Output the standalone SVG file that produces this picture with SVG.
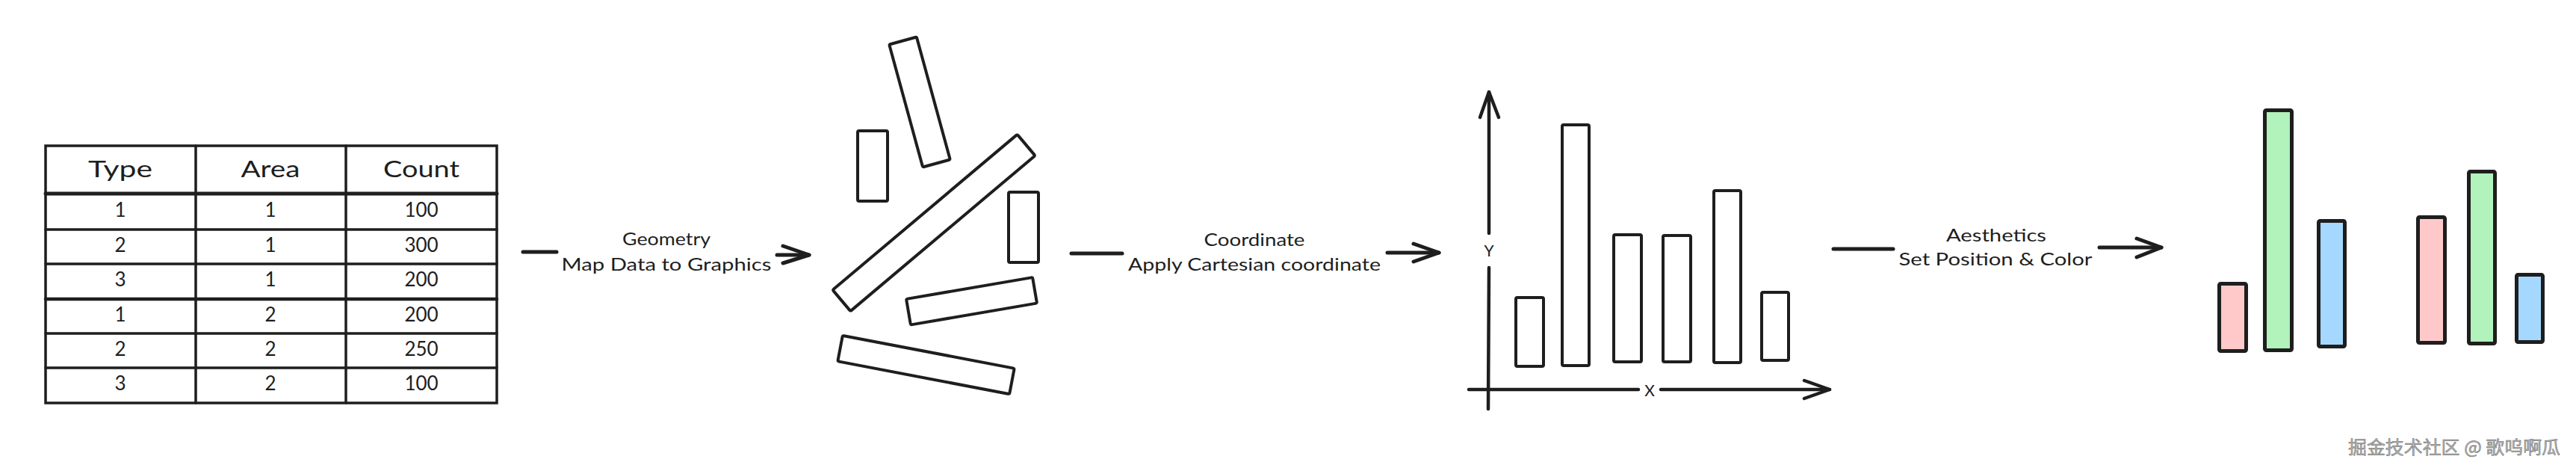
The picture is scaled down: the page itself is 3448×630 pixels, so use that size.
<svg xmlns="http://www.w3.org/2000/svg" width="3448" height="630" viewBox="0 0 3448 630">
<style>
.s{fill:none;stroke:#1e1e1e;stroke-width:4;stroke-linecap:round;stroke-linejoin:round}
.b{fill:#fff;stroke:#1e1e1e;stroke-width:4;stroke-linejoin:round}
.c{stroke:#1e1e1e;stroke-width:5;stroke-linejoin:round}
.tl{fill:none;stroke:#1e1e1e;stroke-width:3.5;stroke-linecap:round}
.t{font-family:"Lato","Liberation Sans",sans-serif;fill:#1e1e1e;text-anchor:middle}
.h{font-size:30px}
.d{font-size:26px}
.l{font-size:23px}
.ax{font-size:21px}
.wm{font-family:"Noto Sans CJK SC",sans-serif;font-size:24px;fill:#b4b4b4;stroke:#6a6a6a;stroke-width:0.5}
</style>
<rect width="3448" height="630" fill="#fff"/>

<g id="table">
  <rect x="61" y="195" width="604" height="344" class="tl"/>
  <line x1="61" y1="259" x2="665" y2="259" class="tl" style="stroke-width:5"/>
  <line x1="61" y1="307" x2="665" y2="307" class="tl"/>
  <line x1="61" y1="353" x2="665" y2="353" class="tl"/>
  <line x1="61" y1="400" x2="665" y2="400" class="tl" style="stroke-width:4.5"/>
  <line x1="61" y1="446" x2="665" y2="446" class="tl"/>
  <line x1="61" y1="492" x2="665" y2="492" class="tl"/>
  <line x1="262" y1="195" x2="262" y2="539" class="tl"/>
  <line x1="463" y1="195" x2="463" y2="539" class="tl"/>
  <text class="t h" x="161" y="237" textLength="86" lengthAdjust="spacingAndGlyphs">Type</text>
  <text class="t h" x="362" y="237" textLength="79" lengthAdjust="spacingAndGlyphs">Area</text>
  <text class="t h" x="564" y="237" textLength="102" lengthAdjust="spacingAndGlyphs">Count</text>
  <text class="t d" x="161" y="290">1</text><text class="t d" x="362" y="290">1</text><text class="t d" x="564" y="290">100</text>
  <text class="t d" x="161" y="337">2</text><text class="t d" x="362" y="337">1</text><text class="t d" x="564" y="337">300</text>
  <text class="t d" x="161" y="383">3</text><text class="t d" x="362" y="383">1</text><text class="t d" x="564" y="383">200</text>
  <text class="t d" x="161" y="430">1</text><text class="t d" x="362" y="430">2</text><text class="t d" x="564" y="430">200</text>
  <text class="t d" x="161" y="476">2</text><text class="t d" x="362" y="476">2</text><text class="t d" x="564" y="476">250</text>
  <text class="t d" x="161" y="522">3</text><text class="t d" x="362" y="522">2</text><text class="t d" x="564" y="522">100</text>
</g>

<g id="geometry-shapes">
  <rect class="b" x="-19" y="-85" width="38" height="170" rx="2" transform="translate(1231,136.5) rotate(-15.3)"/>
  <rect class="b" x="1148" y="175" width="40" height="94" rx="2"/>
  <rect class="b" x="-161.5" y="-18.5" width="323" height="37" rx="2" transform="translate(1250,298) rotate(-40.1)"/>
  <rect class="b" x="1350" y="257" width="40" height="94" rx="2"/>
  <rect class="b" x="-85.75" y="-17.5" width="171.5" height="35" rx="2" transform="translate(1300.5,402.75) rotate(-9.7)"/>
  <rect class="b" x="-117" y="-17.5" width="234" height="35" rx="2" transform="translate(1239.5,488) rotate(10.8)"/>
</g>

<g id="cartesian-chart">
  <polyline class="s" style="stroke-width:4.5" points="1992,547 1993,358"/>
  <polyline class="s" style="stroke-width:4.5" points="1993,312 1993,123"/>
  <polyline class="s" style="stroke-width:4.5" points="1981,157 1993,123 2006,157"/>
  <polyline class="s" style="stroke-width:4.5" points="1966,521 2193,521"/>
  <polyline class="s" style="stroke-width:4.5" points="2223,521 2449,521"/>
  <polyline class="s" style="stroke-width:4.5" points="2415,509 2449,521 2415,533"/>
  <text class="t ax" x="1993" y="343">Y</text>
  <text class="t ax" x="2208" y="530">X</text>
  <rect class="b" x="2029" y="398" width="37" height="92" rx="2"/>
  <rect class="b" x="2091" y="167" width="36" height="322" rx="2"/>
  <rect class="b" x="2160" y="314" width="37" height="170" rx="2"/>
  <rect class="b" x="2226" y="315" width="37" height="169" rx="2"/>
  <rect class="b" x="2294" y="255" width="36" height="230" rx="2"/>
  <rect class="b" x="2358" y="391" width="36" height="91" rx="2"/>
</g>

<g id="colored-chart">
  <rect class="c" fill="#ffc9c9" x="2970.5" y="379.5" width="36" height="90" rx="2"/>
  <rect class="c" fill="#b2f2bb" x="3031.5" y="147.5" width="36" height="321" rx="2"/>
  <rect class="c" fill="#a5d8ff" x="3103.5" y="295.5" width="35" height="168" rx="2"/>
  <rect class="c" fill="#ffc9c9" x="3236.5" y="290.5" width="36" height="168" rx="2"/>
  <rect class="c" fill="#b2f2bb" x="3304.5" y="229.5" width="35" height="230" rx="2"/>
  <rect class="c" fill="#a5d8ff" x="3368.5" y="367.5" width="35" height="90" rx="2"/>
</g>

<g id="connectors">
  <g id="arrow-geometry">
    <line class="s" style="stroke-width:5" x1="700" y1="337" x2="745" y2="337"/>
    <line class="s" style="stroke-width:5" x1="1040" y1="341" x2="1083" y2="341"/>
    <polyline class="s" style="stroke-width:5" points="1048,329 1083,341 1048,352"/>
    <text class="t l" x="892" y="328" textLength="118" lengthAdjust="spacingAndGlyphs">Geometry</text>
    <text class="t l" x="892" y="362" textLength="281" lengthAdjust="spacingAndGlyphs">Map Data to Graphics</text>
  </g>
  <g id="arrow-coordinate">
    <line class="s" style="stroke-width:5" x1="1434" y1="339" x2="1502" y2="339"/>
    <line class="s" style="stroke-width:5" x1="1857" y1="338" x2="1926" y2="338"/>
    <polyline class="s" style="stroke-width:5" points="1892,326 1926,338 1892,350"/>
    <text class="t l" x="1679" y="329" textLength="135" lengthAdjust="spacingAndGlyphs">Coordinate</text>
    <text class="t l" x="1679" y="362" textLength="338" lengthAdjust="spacingAndGlyphs">Apply Cartesian coordinate</text>
  </g>
  <g id="arrow-aesthetics">
    <line class="s" style="stroke-width:5" x1="2454" y1="333" x2="2534" y2="333"/>
    <line class="s" style="stroke-width:5" x1="2810" y1="331" x2="2893" y2="331"/>
    <polyline class="s" style="stroke-width:5" points="2860,319 2893,331 2860,344"/>
    <text class="t l" x="2672" y="323" textLength="134" lengthAdjust="spacingAndGlyphs">Aesthetics</text>
    <text class="t l" x="2671" y="355" textLength="259" lengthAdjust="spacingAndGlyphs">Set Position &amp; Color</text>
  </g>
</g>

<text class="wm" x="3143" y="607" textLength="284" lengthAdjust="spacingAndGlyphs">掘金技术社区 @ 歌呜啊瓜</text>
</svg>
